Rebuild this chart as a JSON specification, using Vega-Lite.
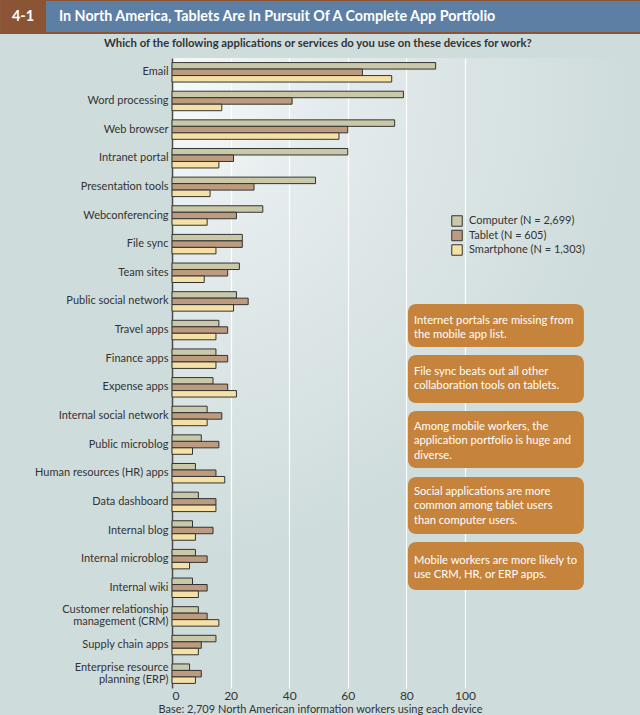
{
  "$schema": "https://vega.github.io/schema/vega-lite/v6.json",
  "autosize": {"type": "none"},
  "width": 457,
  "height": 630,
  "padding": {"left": 172, "top": 58, "right": 11, "bottom": 27},
  "background": "#cfdcdc",
  "config": {
    "font": "Lato",
    "view": {
      "stroke": null,
      "fill": {"gradient": "radial", "x1": 0.12, "y1": 0.05, "r1": 0, "x2": 0.12, "y2": 0.05, "r2": 0.75,
        "stops": [{"offset": 0, "color": "#f8fbfb"}, {"offset": 0.35, "color": "#e4ebec"}, {"offset": 1, "color": "#cfdcdc"}]}
    }
  },
  "datasets": {
    "apps": [
      {"app": "Email", "device": "Computer (N = 2,699)", "value": 90},
      {"app": "Email", "device": "Tablet (N = 605)", "value": 65},
      {"app": "Email", "device": "Smartphone (N = 1,303)", "value": 75},
      {"app": "Word processing", "device": "Computer (N = 2,699)", "value": 79},
      {"app": "Word processing", "device": "Tablet (N = 605)", "value": 41},
      {"app": "Word processing", "device": "Smartphone (N = 1,303)", "value": 17},
      {"app": "Web browser", "device": "Computer (N = 2,699)", "value": 76},
      {"app": "Web browser", "device": "Tablet (N = 605)", "value": 60},
      {"app": "Web browser", "device": "Smartphone (N = 1,303)", "value": 57},
      {"app": "Intranet portal", "device": "Computer (N = 2,699)", "value": 60},
      {"app": "Intranet portal", "device": "Tablet (N = 605)", "value": 21},
      {"app": "Intranet portal", "device": "Smartphone (N = 1,303)", "value": 16},
      {"app": "Presentation tools", "device": "Computer (N = 2,699)", "value": 49},
      {"app": "Presentation tools", "device": "Tablet (N = 605)", "value": 28},
      {"app": "Presentation tools", "device": "Smartphone (N = 1,303)", "value": 13},
      {"app": "Webconferencing", "device": "Computer (N = 2,699)", "value": 31},
      {"app": "Webconferencing", "device": "Tablet (N = 605)", "value": 22},
      {"app": "Webconferencing", "device": "Smartphone (N = 1,303)", "value": 12},
      {"app": "File sync", "device": "Computer (N = 2,699)", "value": 24},
      {"app": "File sync", "device": "Tablet (N = 605)", "value": 24},
      {"app": "File sync", "device": "Smartphone (N = 1,303)", "value": 15},
      {"app": "Team sites", "device": "Computer (N = 2,699)", "value": 23},
      {"app": "Team sites", "device": "Tablet (N = 605)", "value": 19},
      {"app": "Team sites", "device": "Smartphone (N = 1,303)", "value": 11},
      {"app": "Public social network", "device": "Computer (N = 2,699)", "value": 22},
      {"app": "Public social network", "device": "Tablet (N = 605)", "value": 26},
      {"app": "Public social network", "device": "Smartphone (N = 1,303)", "value": 21},
      {"app": "Travel apps", "device": "Computer (N = 2,699)", "value": 16},
      {"app": "Travel apps", "device": "Tablet (N = 605)", "value": 19},
      {"app": "Travel apps", "device": "Smartphone (N = 1,303)", "value": 15},
      {"app": "Finance apps", "device": "Computer (N = 2,699)", "value": 15},
      {"app": "Finance apps", "device": "Tablet (N = 605)", "value": 19},
      {"app": "Finance apps", "device": "Smartphone (N = 1,303)", "value": 15},
      {"app": "Expense apps", "device": "Computer (N = 2,699)", "value": 14},
      {"app": "Expense apps", "device": "Tablet (N = 605)", "value": 19},
      {"app": "Expense apps", "device": "Smartphone (N = 1,303)", "value": 22},
      {"app": "Internal social network", "device": "Computer (N = 2,699)", "value": 12},
      {"app": "Internal social network", "device": "Tablet (N = 605)", "value": 17},
      {"app": "Internal social network", "device": "Smartphone (N = 1,303)", "value": 12},
      {"app": "Public microblog", "device": "Computer (N = 2,699)", "value": 10},
      {"app": "Public microblog", "device": "Tablet (N = 605)", "value": 16},
      {"app": "Public microblog", "device": "Smartphone (N = 1,303)", "value": 7},
      {"app": "Human resources (HR) apps", "device": "Computer (N = 2,699)", "value": 8},
      {"app": "Human resources (HR) apps", "device": "Tablet (N = 605)", "value": 15},
      {"app": "Human resources (HR) apps", "device": "Smartphone (N = 1,303)", "value": 18},
      {"app": "Data dashboard", "device": "Computer (N = 2,699)", "value": 9},
      {"app": "Data dashboard", "device": "Tablet (N = 605)", "value": 15},
      {"app": "Data dashboard", "device": "Smartphone (N = 1,303)", "value": 15},
      {"app": "Internal blog", "device": "Computer (N = 2,699)", "value": 7},
      {"app": "Internal blog", "device": "Tablet (N = 605)", "value": 14},
      {"app": "Internal blog", "device": "Smartphone (N = 1,303)", "value": 8},
      {"app": "Internal microblog", "device": "Computer (N = 2,699)", "value": 8},
      {"app": "Internal microblog", "device": "Tablet (N = 605)", "value": 12},
      {"app": "Internal microblog", "device": "Smartphone (N = 1,303)", "value": 6},
      {"app": "Internal wiki", "device": "Computer (N = 2,699)", "value": 7},
      {"app": "Internal wiki", "device": "Tablet (N = 605)", "value": 12},
      {"app": "Internal wiki", "device": "Smartphone (N = 1,303)", "value": 9},
      {"app": "Customer relationship management (CRM)", "device": "Computer (N = 2,699)", "value": 9},
      {"app": "Customer relationship management (CRM)", "device": "Tablet (N = 605)", "value": 12},
      {"app": "Customer relationship management (CRM)", "device": "Smartphone (N = 1,303)", "value": 16},
      {"app": "Supply chain apps", "device": "Computer (N = 2,699)", "value": 15},
      {"app": "Supply chain apps", "device": "Tablet (N = 605)", "value": 10},
      {"app": "Supply chain apps", "device": "Smartphone (N = 1,303)", "value": 9},
      {"app": "Enterprise resource planning (ERP)", "device": "Computer (N = 2,699)", "value": 6},
      {"app": "Enterprise resource planning (ERP)", "device": "Tablet (N = 605)", "value": 10},
      {"app": "Enterprise resource planning (ERP)", "device": "Smartphone (N = 1,303)", "value": 8}
    ]
  },
  "layer": [
    {
      "data": {"name": "apps"},
      "mark": {"type": "bar", "stroke": "#333333", "strokeWidth": 1},
      "encoding": {
        "y": {
          "field": "app", "type": "nominal",
          "sort": ["Email", "Word processing", "Web browser", "Intranet portal", "Presentation tools", "Webconferencing", "File sync", "Team sites", "Public social network", "Travel apps", "Finance apps", "Expense apps", "Internal social network", "Public microblog", "Human resources (HR) apps", "Data dashboard", "Internal blog", "Internal microblog", "Internal wiki", "Customer relationship management (CRM)", "Supply chain apps", "Enterprise resource planning (ERP)"],
          "scale": {"paddingInner": 0.32, "paddingOuter": 0.16},
          "axis": {
            "title": null, "ticks": false, "domainColor": "#4a4a4a", "domainWidth": 1.5,
            "labelPadding": 4, "labelFontSize": 11, "labelColor": "#333333", "labelLimit": 220, "labelLineHeight": 12,
            "labelOffset": {"condition": {"test": "indexof(datum.value, '(CRM)') > 0 || indexof(datum.value, '(ERP)') > 0", "value": -6}, "value": 0},
            "labelExpr": "indexof(datum.label, '(CRM)') > 0 ? ['Customer relationship', 'management (CRM)'] : indexof(datum.label, '(ERP)') > 0 ? ['Enterprise resource', 'planning (ERP)'] : datum.label"
          }
        },
        "yOffset": {
          "field": "device", "type": "nominal",
          "sort": ["Computer (N = 2,699)", "Tablet (N = 605)", "Smartphone (N = 1,303)"],
          "scale": {"paddingInner": 0, "paddingOuter": 0}
        },
        "x": {
          "field": "value", "type": "quantitative",
          "scale": {"domain": [0, 156], "nice": false, "zero": true},
          "axis": {
            "values": [0, 20, 40, 60, 80, 100], "grid": true, "gridColor": "#ffffff", "gridWidth": 1.2,
            "domain": false, "ticks": false, "labelPadding": 2, "labelFontSize": 12, "labelColor": "#333333",
            "title": "Base: 2,709 North American information workers using each device",
            "titleFontSize": 11, "titleFontWeight": "normal", "titleColor": "#333333",
            "titleX": 148, "titleY": 24.5, "titleBaseline": "alphabetic", "titleAnchor": "middle"
          }
        },
        "color": {
          "field": "device", "type": "nominal",
          "scale": {"domain": ["Computer (N = 2,699)", "Tablet (N = 605)", "Smartphone (N = 1,303)"], "range": ["#c9c9a9", "#bd9b7e", "#f5e1a5"]},
          "legend": {
            "title": null, "orient": "none", "legendX": 279, "legendY": 157, "padding": 0,
            "symbolType": "square", "symbolSize": 110, "symbolStrokeColor": "#333333", "symbolStrokeWidth": 1,
            "labelFontSize": 11, "labelColor": "#333333", "rowPadding": -1.5, "labelOffset": 6
          }
        }
      }
    },
    {
      "layer": [
        {
          "data": {"values": [{"part": "header band"}]},
          "mark": {"type": "rect", "fill": "#8b5535"},
          "encoding": {
            "x": {"datum": -58.7, "type": "quantitative", "scale": {"domain": [0, 156], "nice": false, "zero": false}, "axis": null},
            "x2": {"datum": 160},
            "y": {"datum": -2.03, "type": "quantitative", "scale": {"domain": [0, 22], "reverse": true, "nice": false, "zero": false}, "axis": null},
            "y2": {"datum": -0.84}
          }
        },
        {
          "data": {"values": [{"part": "header blue"}]},
          "mark": {"type": "rect", "fill": "#5d7fa4"},
          "encoding": {
            "x": {"datum": -43.0, "type": "quantitative", "scale": {"domain": [0, 156], "nice": false, "zero": false}, "axis": null},
            "x2": {"datum": 160},
            "y": {"datum": -1.99, "type": "quantitative", "scale": {"domain": [0, 22], "reverse": true, "nice": false, "zero": false}, "axis": null},
            "y2": {"datum": -0.908}
          }
        },
        {
          "data": {"values": [{"label": "4-1"}]},
          "mark": {"type": "text", "color": "#ffffff", "fontWeight": "bold", "fontSize": 14.5, "align": "center", "baseline": "middle"},
          "encoding": {
            "text": {"field": "label"},
            "x": {"datum": -50.85, "type": "quantitative", "scale": {"domain": [0, 156], "nice": false, "zero": false}, "axis": null},
            "y": {"datum": -1.43, "type": "quantitative", "scale": {"domain": [0, 22], "reverse": true, "nice": false, "zero": false}, "axis": null}
          }
        },
        {
          "data": {"values": [{"label": "In North America, Tablets Are In Pursuit Of A Complete App Portfolio"}]},
          "mark": {"type": "text", "color": "#ffffff", "fontWeight": "bold", "fontSize": 14.3, "align": "left", "baseline": "middle"},
          "encoding": {
            "text": {"field": "label"},
            "x": {"datum": -38.6, "type": "quantitative", "scale": {"domain": [0, 156], "nice": false, "zero": false}, "axis": null},
            "y": {"datum": -1.43, "type": "quantitative", "scale": {"domain": [0, 22], "reverse": true, "nice": false, "zero": false}, "axis": null}
          }
        },
        {
          "data": {"values": [{"label": "Which of the following applications or services do you use on these devices for work?"}]},
          "mark": {"type": "text", "color": "#333333", "fontWeight": "bold", "fontSize": 11.3, "align": "center", "baseline": "middle"},
          "encoding": {
            "text": {"field": "label"},
            "x": {"datum": 49.8, "type": "quantitative", "scale": {"domain": [0, 156], "nice": false, "zero": false}, "axis": null},
            "y": {"datum": -0.489, "type": "quantitative", "scale": {"domain": [0, 22], "reverse": true, "nice": false, "zero": false}, "axis": null}
          }
        },
        {
          "data": {"values": [{"note": "Internet portals are missing from\nthe mobile app list."}]},
          "layer": [
            {"mark": {"type": "rect", "fill": "#c6833c", "cornerRadius": 8},
             "encoding": {
               "x": {"datum": 80.55, "type": "quantitative", "scale": {"domain": [0, 156], "nice": false, "zero": false}, "axis": null},
               "x2": {"datum": 140.61},
               "y": {"datum": 8.591, "type": "quantitative", "scale": {"domain": [0, 22], "reverse": true, "nice": false, "zero": false}, "axis": null},
               "y2": {"datum": 10.093}}},
            {"mark": {"type": "text", "color": "#ffffff", "fontSize": 11.2, "align": "left", "baseline": "middle", "lineBreak": "\n", "lineHeight": 14.3},
             "encoding": {
               "text": {"field": "note"},
               "x": {"datum": 82.59, "type": "quantitative", "scale": {"domain": [0, 156], "nice": false, "zero": false}, "axis": null},
               "y": {"datum": 9.167, "type": "quantitative", "scale": {"domain": [0, 22], "reverse": true, "nice": false, "zero": false}, "axis": null}}}
          ]
        },
        {
          "data": {"values": [{"note": "File sync beats out all other\ncollaboration tools on tablets."}]},
          "layer": [
            {"mark": {"type": "rect", "fill": "#c6833c", "cornerRadius": 8},
             "encoding": {
               "x": {"datum": 80.55, "type": "quantitative", "scale": {"domain": [0, 156], "nice": false, "zero": false}, "axis": null},
               "x2": {"datum": 140.61},
               "y": {"datum": 10.372, "type": "quantitative", "scale": {"domain": [0, 22], "reverse": true, "nice": false, "zero": false}, "axis": null},
               "y2": {"datum": 12.048}}},
            {"mark": {"type": "text", "color": "#ffffff", "fontSize": 11.2, "align": "left", "baseline": "middle", "lineBreak": "\n", "lineHeight": 14.3},
             "encoding": {
               "text": {"field": "note"},
               "x": {"datum": 82.59, "type": "quantitative", "scale": {"domain": [0, 156], "nice": false, "zero": false}, "axis": null},
               "y": {"datum": 10.965, "type": "quantitative", "scale": {"domain": [0, 22], "reverse": true, "nice": false, "zero": false}, "axis": null}}}
          ]
        },
        {
          "data": {"values": [{"note": "Among mobile workers, the\napplication portfolio is huge and\ndiverse."}]},
          "layer": [
            {"mark": {"type": "rect", "fill": "#c6833c", "cornerRadius": 8},
             "encoding": {
               "x": {"datum": 80.55, "type": "quantitative", "scale": {"domain": [0, 156], "nice": false, "zero": false}, "axis": null},
               "x2": {"datum": 140.61},
               "y": {"datum": 12.327, "type": "quantitative", "scale": {"domain": [0, 22], "reverse": true, "nice": false, "zero": false}, "axis": null},
               "y2": {"datum": 14.318}}},
            {"mark": {"type": "text", "color": "#ffffff", "fontSize": 11.2, "align": "left", "baseline": "middle", "lineBreak": "\n", "lineHeight": 14.3},
             "encoding": {
               "text": {"field": "note"},
               "x": {"datum": 82.59, "type": "quantitative", "scale": {"domain": [0, 156], "nice": false, "zero": false}, "axis": null},
               "y": {"datum": 12.886, "type": "quantitative", "scale": {"domain": [0, 22], "reverse": true, "nice": false, "zero": false}, "axis": null}}}
          ]
        },
        {
          "data": {"values": [{"note": "Social applications are more\ncommon among tablet users\nthan computer users."}]},
          "layer": [
            {"mark": {"type": "rect", "fill": "#c6833c", "cornerRadius": 8},
             "encoding": {
               "x": {"datum": 80.55, "type": "quantitative", "scale": {"domain": [0, 156], "nice": false, "zero": false}, "axis": null},
               "x2": {"datum": 140.61},
               "y": {"datum": 14.631, "type": "quantitative", "scale": {"domain": [0, 22], "reverse": true, "nice": false, "zero": false}, "axis": null},
               "y2": {"datum": 16.622}}},
            {"mark": {"type": "text", "color": "#ffffff", "fontSize": 11.2, "align": "left", "baseline": "middle", "lineBreak": "\n", "lineHeight": 14.3},
             "encoding": {
               "text": {"field": "note"},
               "x": {"datum": 82.59, "type": "quantitative", "scale": {"domain": [0, 156], "nice": false, "zero": false}, "axis": null},
               "y": {"datum": 15.156, "type": "quantitative", "scale": {"domain": [0, 22], "reverse": true, "nice": false, "zero": false}, "axis": null}}}
          ]
        },
        {
          "data": {"values": [{"note": "Mobile workers are more likely to\nuse CRM, HR, or ERP apps."}]},
          "layer": [
            {"mark": {"type": "rect", "fill": "#c6833c", "cornerRadius": 8},
             "encoding": {
               "x": {"datum": 80.55, "type": "quantitative", "scale": {"domain": [0, 156], "nice": false, "zero": false}, "axis": null},
               "x2": {"datum": 140.61},
               "y": {"datum": 16.902, "type": "quantitative", "scale": {"domain": [0, 22], "reverse": true, "nice": false, "zero": false}, "axis": null},
               "y2": {"datum": 18.578}}},
            {"mark": {"type": "text", "color": "#ffffff", "fontSize": 11.2, "align": "left", "baseline": "middle", "lineBreak": "\n", "lineHeight": 14.3},
             "encoding": {
               "text": {"field": "note"},
               "x": {"datum": 82.59, "type": "quantitative", "scale": {"domain": [0, 156], "nice": false, "zero": false}, "axis": null},
               "y": {"datum": 17.565, "type": "quantitative", "scale": {"domain": [0, 22], "reverse": true, "nice": false, "zero": false}, "axis": null}}}
          ]
        }
      ]
    }
  ],
  "resolve": {"scale": {"x": "independent", "y": "independent"}, "axis": {"x": "independent", "y": "independent"}}
}
